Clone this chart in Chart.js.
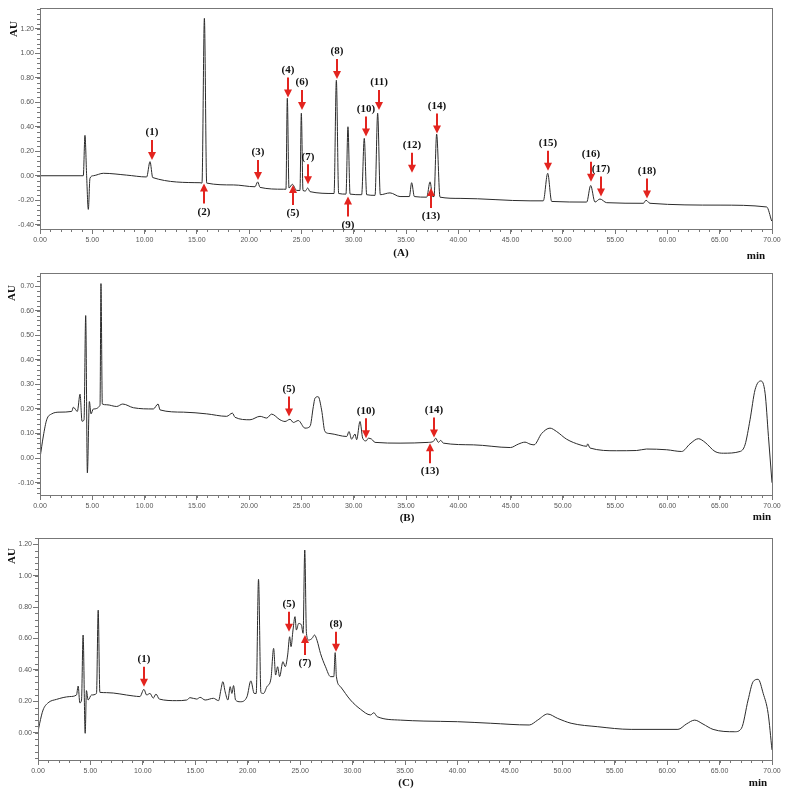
<!DOCTYPE html>
<html>
<head>
<meta charset="utf-8">
<script src="https://cdn.jsdelivr.net/npm/chart.js@4.4.0/dist/chart.umd.min.js"></script>
<style>
  body { margin: 0; background: #fff; width: 788px; height: 793px; position: relative; overflow: hidden; }
  canvas { position: absolute; left: 0; }
  .t { position: absolute; font: bold 11px "Liberation Serif", serif; color: #111; transform: translate(-50%, -50%); white-space: nowrap; }
  .au { transform: translate(-50%, -50%) rotate(-90deg); }
</style>
</head>
<body>
<canvas id="chartA" width="788" height="262" style="top:0px"></canvas>
<canvas id="chartB" width="788" height="263" style="top:262px"></canvas>
<canvas id="chartC" width="788" height="268" style="top:525px"></canvas>

<div class="t au" style="left:13px;top:29px">AU</div>
<div class="t" style="left:401px;top:252px">(A)</div>
<div class="t" style="left:756px;top:255px">min</div>
<div class="t au" style="left:11px;top:293px">AU</div>
<div class="t" style="left:407px;top:517px">(B)</div>
<div class="t" style="left:762px;top:516px">min</div>
<div class="t au" style="left:11px;top:556px">AU</div>
<div class="t" style="left:406px;top:782px">(C)</div>
<div class="t" style="left:758px;top:782px">min</div>

<script>
// retention time (min) and absorbance (AU)
var traceA = [
  [0, 0], [3.83, 0], [4.14, 0], [4.30, 0.33], [4.46, 0], [4.62, -0.275], [4.78, -0.02], [5.10, 0],
  [6.06, 0.02], [8.29, 0.005], [10.2, -0.01], [10.52, 0.115], [10.78, -0.015], [15.3, -0.057],
  [15.49, -0.06], [15.72, 1.286], [15.94, -0.06], [18.49, -0.075], [20.56, -0.09], [20.82, -0.05],
  [21.04, -0.095], [23.27, -0.11], [23.52, -0.11], [23.65, 0.632], [23.81, -0.10], [24.13, -0.07],
  [24.55, -0.12], [24.86, -0.12], [24.99, 0.51], [25.15, -0.12], [25.37, -0.125], [25.6, -0.10],
  [25.82, -0.13], [28.12, -0.145], [28.34, 0.78], [28.56, -0.145], [29.26, -0.15], [29.45, 0.40],
  [29.65, -0.15], [30.76, -0.155], [31.01, 0.305], [31.24, -0.155], [32.04, -0.16], [32.29, 0.51],
  [32.54, -0.155], [33.47, -0.14], [34.43, -0.17], [35.32, -0.17], [35.54, -0.057], [35.8, -0.17],
  [36.98, -0.175], [37.3, -0.05], [37.55, -0.17], [37.68, -0.17], [37.93, 0.34], [38.25, -0.175],
  [40.17, -0.185], [46.86, -0.205], [48.13, -0.205], [48.55, 0.02], [48.93, -0.21], [52.28, -0.215],
  [52.66, -0.08], [53.07, -0.215], [53.55, -0.19], [54.19, -0.22], [57.7, -0.225], [57.95, -0.2],
  [58.33, -0.225], [65.03, -0.24], [69.49, -0.255], [69.97, -0.37]
];

var traceB = [
  [0, 0], [0.32, 0.09], [0.64, 0.156], [1.12, 0.18], [1.91, 0.187], [3.03, 0.19], [3.19, 0.207],
  [3.57, 0.19], [3.83, 0.26], [4.02, 0.15], [4.21, 0.155], [4.37, 0.58], [4.53, -0.06], [4.72, 0.23],
  [4.88, 0.18], [5.1, 0.20], [5.74, 0.215], [5.83, 0.71], [5.96, 0.22], [6.38, 0.217], [7.33, 0.21],
  [7.91, 0.22], [8.93, 0.205], [10.84, 0.2], [11.29, 0.22], [11.48, 0.196], [13.71, 0.187],
  [15.94, 0.18], [17.85, 0.17], [18.4, 0.183], [18.65, 0.166], [20.08, 0.156], [21.04, 0.17],
  [21.68, 0.163], [22.15, 0.179], [22.95, 0.156], [23.43, 0.149], [23.91, 0.158], [24.23, 0.145],
  [24.7, 0.153], [25.34, 0.122], [25.82, 0.129], [26.14, 0.21], [26.3, 0.244], [26.6, 0.25],
  [26.93, 0.196], [27.25, 0.108], [27.73, 0.10], [29.33, 0.088], [29.55, 0.108], [29.8, 0.077],
  [30.12, 0.098], [30.28, 0.075], [30.6, 0.149], [30.86, 0.081], [31.18, 0.07], [31.4, 0.081],
  [31.72, 0.077], [32.04, 0.064], [34.43, 0.061], [37.13, 0.064], [37.62, 0.068], [37.84, 0.081],
  [38.09, 0.064], [38.32, 0.072], [38.57, 0.061], [41.44, 0.054], [44.98, 0.043], [45.74, 0.057],
  [46.38, 0.065], [46.86, 0.057], [47.24, 0.054], [47.97, 0.10], [48.77, 0.122], [49.41, 0.108],
  [50.36, 0.077], [51.64, 0.054], [52.28, 0.048], [52.37, 0.058], [52.6, 0.041], [55.14, 0.03],
  [57.06, 0.031], [58.0, 0.037], [59.93, 0.034], [61.36, 0.027], [62.16, 0.058], [62.96, 0.079],
  [63.6, 0.064], [64.55, 0.027], [65.35, 0.02], [66.94, 0.027], [67.42, 0.054], [67.9, 0.156],
  [68.38, 0.278], [68.93, 0.314], [69.34, 0.264], [69.66, 0.088], [70, -0.10]
];

var traceC = [
  [0, 0.006], [0.16, 0.06], [0.48, 0.144], [0.96, 0.19], [1.76, 0.212], [3.03, 0.23], [3.67, 0.24],
  [3.83, 0.297], [3.99, 0.19], [4.15, 0.208], [4.3, 0.622], [4.5, -0.004], [4.62, 0.268], [4.78, 0.208],
  [5.1, 0.24], [5.58, 0.25], [5.74, 0.78], [5.9, 0.257], [6.54, 0.255], [9.08, 0.234], [9.72, 0.23],
  [10.1, 0.276], [10.36, 0.24], [10.68, 0.25], [10.99, 0.22], [11.25, 0.246], [11.57, 0.214],
  [13.23, 0.204], [14.18, 0.208], [14.5, 0.223], [15.14, 0.214], [15.46, 0.225], [15.94, 0.208],
  [16.73, 0.219], [17.22, 0.204], [17.44, 0.272], [17.63, 0.325], [17.85, 0.26], [18.11, 0.208],
  [18.33, 0.293], [18.49, 0.25], [18.65, 0.3], [18.84, 0.208], [19.29, 0.197], [19.93, 0.229],
  [20.3, 0.33], [20.62, 0.25], [20.81, 0.25], [21.03, 0.977], [21.26, 0.255], [21.51, 0.25],
  [21.83, 0.293], [22.22, 0.346], [22.47, 0.537], [22.66, 0.367], [22.85, 0.42], [23.04, 0.357],
  [23.36, 0.452], [23.58, 0.42], [23.81, 0.495], [24.0, 0.611], [24.13, 0.548], [24.32, 0.654],
  [24.51, 0.739], [24.64, 0.654], [24.86, 0.696], [25.12, 0.686], [25.28, 0.633], [25.44, 1.163],
  [25.6, 0.633], [25.82, 0.59], [26.14, 0.601], [26.37, 0.622], [26.62, 0.586], [26.94, 0.505],
  [27.42, 0.42], [27.9, 0.357], [28.21, 0.357], [28.34, 0.51], [28.46, 0.357], [28.85, 0.293],
  [29.8, 0.208], [30.76, 0.149], [31.71, 0.113], [32.03, 0.127], [32.35, 0.102], [34.58, 0.08],
  [36.81, 0.074], [40.0, 0.07], [43.18, 0.06], [46.85, 0.049], [47.65, 0.08], [48.6, 0.119],
  [49.56, 0.091], [50.84, 0.06], [53.38, 0.038], [56.57, 0.021], [61.03, 0.021], [61.83, 0.055],
  [62.63, 0.08], [63.42, 0.055], [64.38, 0.021], [66.45, 0.006], [67.09, 0.028], [67.72, 0.208],
  [68.2, 0.325], [68.68, 0.34], [69.16, 0.25], [69.63, 0.123], [70, -0.11]
];

// tick labels
var xTicks = [0, 5, 10, 15, 20, 25, 30, 35, 40, 45, 50, 55, 60, 65, 70];
var yTicksA = [-0.4, -0.2, 0, 0.2, 0.4, 0.6, 0.8, 1.0, 1.2];
var yTicksB = [-0.1, 0, 0.1, 0.2, 0.3, 0.4, 0.5, 0.6, 0.7];
var yTicksC = [0, 0.2, 0.4, 0.6, 0.8, 1.0, 1.2];

// peak labels: name, time, AU at arrow tip, 1 = arrow points down, -1 = points up
var peaksA = ['(1)', '(2)', '(3)', '(4)', '(5)', '(6)', '(7)', '(8)', '(9)', '(10)', '(11)', '(12)', '(13)', '(14)', '(15)', '(16)', '(17)', '(18)'];
var peakTimeA = [10.68, 15.72, 20.88, 23.75, 24.23, 25.09, 25.66, 28.43, 29.49, 31.18, 32.42, 35.6, 37.36, 38.0, 48.61, 52.66, 53.62, 58.02];
var peakTipA = [0.128, -0.063, -0.035, 0.64, -0.076, 0.537, -0.07, 0.79, -0.17, 0.32, 0.537, 0.025, -0.10, 0.346, 0.04, -0.05, -0.17, -0.185];
var peakDirA = [1, -1, 1, 1, -1, 1, 1, 1, -1, 1, 1, 1, -1, 1, 1, 1, 1, 1];

var peaksB = ['(5)', '(10)', '(14)', '(13)'];
var peakTimeB = [23.84, 31.18, 37.71, 37.29];
var peakTipB = [0.169, 0.081, 0.084, 0.061];
var peakDirB = [1, 1, 1, -1];

var peaksC = ['(1)', '(5)', '(7)', '(8)'];
var peakTimeC = [10.1, 23.94, 25.43, 28.4];
var peakTipC = [0.293, 0.643, 0.622, 0.516];
var peakDirC = [1, 1, -1, 1];

// frame, minor ticks and red peak arrows
var decor = {
  id: 'decor',
  afterDraw: function (chart, args, opts) {
    var ctx = chart.ctx, a = chart.chartArea, x = chart.scales.x, y = chart.scales.y;
    ctx.save();
    ctx.strokeStyle = '#777';
    ctx.lineWidth = 1;
    ctx.strokeRect(Math.round(a.left) + 0.5, Math.round(a.top) + 0.5, Math.round(a.right - a.left), Math.round(a.bottom - a.top));

    ctx.beginPath();
    for (var i = 0; i <= 70; i++) {
      var px = Math.round(x.getPixelForValue(i)) + 0.5;
      ctx.moveTo(px, a.bottom);
      ctx.lineTo(px, a.bottom + 3);
    }
    var k0 = Math.ceil(y.min / opts.minorY - 1e-6), k1 = Math.floor(y.max / opts.minorY + 1e-6);
    for (var k = k0; k <= k1; k++) {
      var py = Math.round(y.getPixelForValue(k * opts.minorY)) + 0.5;
      ctx.moveTo(a.left, py);
      ctx.lineTo(a.left - 3, py);
    }
    ctx.stroke();

    ctx.strokeStyle = '#e3241f';
    ctx.fillStyle = '#e3241f';
    ctx.lineWidth = 2;
    ctx.font = 'bold 11px "Liberation Serif", serif';
    ctx.textAlign = 'center';
    for (var j = 0; j < opts.names.length; j++) {
      var ax = Math.round(x.getPixelForValue(opts.times[j]));
      var ay = y.getPixelForValue(opts.tips[j]);
      var d = opts.dirs[j];
      var tail = ay - d * 20;
      ctx.beginPath();
      ctx.moveTo(ax, tail);
      ctx.lineTo(ax, ay - d * 6);
      ctx.stroke();
      ctx.beginPath();
      ctx.moveTo(ax, ay);
      ctx.lineTo(ax - 4, ay - d * 8);
      ctx.lineTo(ax + 4, ay - d * 8);
      ctx.closePath();
      ctx.fill();
      ctx.save();
      ctx.fillStyle = '#111';
      if (d === 1) {
        ctx.textBaseline = 'bottom';
        ctx.fillText(opts.names[j], ax, tail - 2);
      } else {
        ctx.textBaseline = 'top';
        ctx.fillText(opts.names[j], ax, tail + 3);
      }
      ctx.restore();
    }
    ctx.restore();
  }
};

function makeChart(id, trace, yMin, yMax, yTicks, minorY, names, times, tips, dirs, box) {
  return new Chart(document.getElementById(id), {
    type: 'line',
    data: {
      datasets: [{
        data: trace.map(function (p) { return { x: p[0], y: p[1] }; }),
        borderColor: '#2b2b2b',
        borderWidth: 1,
        pointRadius: 0,
        cubicInterpolationMode: 'monotone'
      }]
    },
    options: {
      responsive: false,
      animation: false,
      layout: { autoPadding: false, padding: { left: 0, right: 16, top: box.top, bottom: box.bottom } },
      plugins: {
        legend: { display: false },
        tooltip: { enabled: false },
        decor: { minorY: minorY, names: names, times: times, tips: tips, dirs: dirs }
      },
      scales: {
        x: {
          type: 'linear',
          min: 0,
          max: 70,
          afterFit: function (s) { s.height = 20; },
          afterBuildTicks: function (s) { s.ticks = xTicks.map(function (v) { return { value: v }; }); },
          ticks: {
            autoSkip: false,
            maxRotation: 0,
            padding: 2,
            color: '#555',
            font: { family: 'Liberation Sans', size: 7 },
            callback: function (v) { return Number(v).toFixed(2); }
          },
          grid: { drawOnChartArea: false, tickLength: 5, color: '#777' },
          border: { color: '#777' }
        },
        y: {
          min: yMin,
          max: yMax,
          afterFit: function (s) { s.width = box.left; },
          afterBuildTicks: function (s) { s.ticks = yTicks.map(function (v) { return { value: v }; }); },
          ticks: {
            padding: 1,
            color: '#555',
            font: { family: 'Liberation Sans', size: 7 },
            callback: function (v) { return Number(v).toFixed(2); }
          },
          grid: { drawOnChartArea: false, tickLength: 5, color: '#777' },
          border: { color: '#777' }
        }
      }
    },
    plugins: [decor]
  });
}

makeChart('chartA', traceA, -0.435, 1.37, yTicksA, 0.04, peaksA, peakTimeA, peakTipA, peakDirA, { left: 40, top: 8, bottom: 13 });
makeChart('chartB', traceB, -0.15, 0.753, yTicksB, 0.02, peaksB, peakTimeB, peakTipB, peakDirB, { left: 40, top: 11, bottom: 10 });
makeChart('chartC', traceC, -0.174, 1.24, yTicksC, 0.04, peaksC, peakTimeC, peakTipC, peakDirC, { left: 38, top: 13, bottom: 13 });
</script>
</body>
</html>
